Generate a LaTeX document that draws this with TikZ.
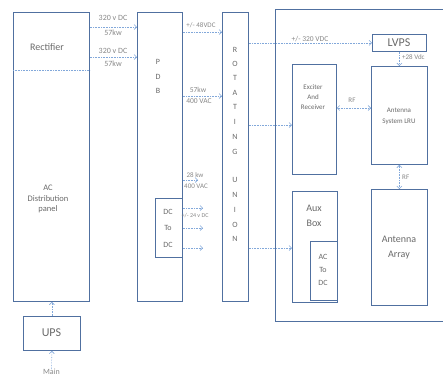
\documentclass[tikz,border=0pt]{standalone}
\usepackage{fontspec}
\setmainfont{Carlito}
\usetikzlibrary{arrows.meta}
\definecolor{boxc}{RGB}{80,112,160}
\definecolor{arrc}{RGB}{130,168,218}
\definecolor{txtc}{RGB}{105,105,105}
\definecolor{lblc}{RGB}{135,135,135}
\begin{document}
\begin{tikzpicture}[x=1pt,y=-1pt,
  blk/.style={draw=boxc,line width=0.8pt,inner sep=0pt,anchor=north west},
  txt/.style={text=txtc,inner sep=0pt,align=center,font=\fontsize{#1}{#1}\selectfont},
  txt/.default=8,
  lbl/.style={text=lblc,inner sep=0pt,font=\fontsize{#1}{#1}\selectfont},
  lbl/.default=7.5,
  arr/.style={draw=arrc,line width=0.6pt,densely dotted,-{Straight Barb[length=2.5pt,width=5pt]}},
  darr/.style={draw=arrc,line width=0.6pt,densely dotted,{Straight Barb[length=2.5pt,width=5pt]}-{Straight Barb[length=2.5pt,width=5pt]}}]
\useasboundingbox (0,0) rectangle (443,376);
% boxes
\node[blk,minimum width=76pt,minimum height=289pt] (rect) at (13,12) {};
\node[blk,minimum width=57pt,minimum height=34pt] (ups) at (23,316) {};
\node[blk,minimum width=45pt,minimum height=289pt] (pdb) at (137,12) {};
\node[blk,minimum width=27pt,minimum height=59pt] (dcdc) at (155,198) {};
\node[blk,minimum width=26pt,minimum height=289pt] (ru) at (222,12) {};
\draw[draw=boxc,line width=0.8pt] (450,9) coordinate (bigne) -- (275,9) coordinate (bignw) -- (275,321) -- (450,321);
\node[blk,minimum width=54pt,minimum height=17pt] (lvps) at (372,34) {};
\node[blk,minimum width=44pt,minimum height=110pt] (exc) at (292,64) {};
\node[blk,minimum width=56pt,minimum height=98pt] (lru) at (371,66) {};
\node[blk,minimum width=56pt,minimum height=116pt] (arr) at (371,189) {};
\node[blk,minimum width=45pt,minimum height=111pt] (aux) at (292,191) {};
\node[blk,minimum width=27pt,minimum height=59pt] (actodc) at (310,241) {};
% divider
\draw[draw=arrc,line width=0.6pt,densely dotted] ([yshift=-58pt]rect.north west) -- ([yshift=-58pt]rect.north east);
% texts
\node[txt=10] (trect) at (47,47) {Rectifier};
\node[txt=8.5] (tacd) at (48,199) {AC\\[2pt]Distribution\\[2pt]panel};
\node[txt=12] (tups) at (51.5,333) {UPS};
\node[txt=8,text=lblc] (main) at (51.5,372) {Main};
\node[txt=8] at (158,62) {P};
\node[txt=8] at (158,77) {D};
\node[txt=8] at (158,91) {B};
\node[txt=8] at (168,212) {DC};
\node[txt=8] at (168,228) {To};
\node[txt=8] at (168,245) {DC};
\foreach \l/\yy in {R/50,O/64,T/78,A/93,T/107,I/122,N/137,G/152,U/180,N/195,I/210,O/225,N/239}
  \node[txt=8] at (235,\yy) {\l};
\node[txt=12] at (399,42.5) {LVPS};
\node[txt=7] at (313,97) {Exciter\\[3pt]And\\[3pt]Receiver};
\node[txt=7] at (399,116) {Antenna\\[4pt]System LRU};
\node[txt=10] at (399,248) {Antenna\\[5pt]Array};
\node[txt=10] at (314,215.5) {Aux\\[5pt]Box};
\node[txt=8] at (323,270) {AC\\[5pt]To\\[5pt]DC};
% connectors
\draw[arr] (main.north) -- (ups.south);
\draw[arr] (ups.north) -- (ups.north |- rect.south);
\draw[arr] ([yshift=-15pt]rect.north east) -- ([yshift=-15pt]pdb.north west);
\node[lbl=8] at (113,18) {320 v DC};
\node[lbl=8] at (113,33) {57kw};
\draw[arr] ([yshift=-45pt]rect.north east) -- ([yshift=-45pt]pdb.north west);
\node[lbl=8] at (113,51) {320 v DC};
\node[lbl=8] at (113,64) {57kw};
\draw[arr] ([yshift=-20pt]pdb.north east) -- ([yshift=-20pt]ru.north west);
\node[lbl=7] at (201,25) {+/- 48VDC};
\draw[arr] ([yshift=-84pt]pdb.north east) -- ([yshift=-84pt]ru.north west);
\node[lbl] at (198,90) {57kw};
\node[lbl] at (199,101) {400 VAC};
\coordinate (e1) at (198,180);
\draw[arr] (pdb.east |- e1) -- (e1);
\node[lbl=7] at (195,175) {28 kw};
\node[lbl=7] at (196,186) {400 VAC};
\foreach \yy/\nm in {208/d1,228/d2,248/d3}{
  \coordinate (\nm) at (203,\yy);
  \draw[arr] (dcdc.east |- \nm) -- (\nm);
}
\node[lbl=6] at (195,216) {+/- 24 v DC};
\draw[arr] (ru.east |- lvps.west) -- (lvps.west);
\node[lbl=7.5] at (310,39) {+/- 320 VDC};
\draw[arr] (lvps.south) -- (lru.north);
\node[lbl=7,anchor=west] at (402,57) {+28 Vdc};
\draw[darr] ([yshift=-44pt]exc.north east) -- ([yshift=-42pt]lru.north west);
\node[lbl=7] at (352,100) {RF};
\draw[darr] (lru.south) -- (arr.north);
\node[lbl=7,anchor=west] at (402,177) {RF};
\draw[arr] ([yshift=-113pt]ru.north east) -- ([yshift=-61pt]exc.north west);
\draw[arr] ([yshift=-236pt]ru.north east) -- ([yshift=-57pt]aux.north west);
\end{tikzpicture}
\end{document}
